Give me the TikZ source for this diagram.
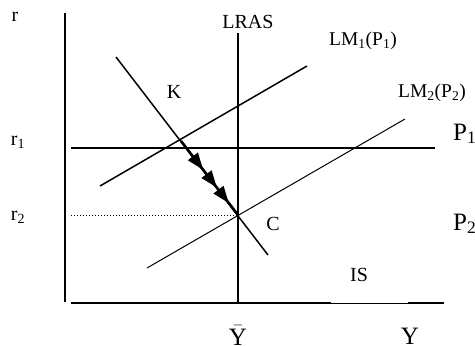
\documentclass[tikz,border=0pt]{standalone}
\usepackage{fontspec}
\setmainfont{Liberation Serif}
\usetikzlibrary{arrows.meta,decorations.markings}
\begin{document}
\begin{tikzpicture}[x=1pt,y=-1pt,
  axis/.style={line width=2pt},
  curve/.style={line width=1.5pt},
  thincurve/.style={line width=1pt},
  lbl/.style={inner sep=0pt,anchor=base,font=\fontsize{20}{22}\selectfont},
  lmlbl/.style={inner sep=0pt,anchor=base,font=\fontsize{19.5}{21}\selectfont},
  biglbl/.style={inner sep=0pt,anchor=base,font=\fontsize{25}{27}\selectfont},
  pathline/.style={line width=2.6pt,
    decoration={markings,
      mark=at position 0.39 with {\arrow{Triangle[length=17pt,width=12pt]}},
      mark=at position 0.63 with {\arrow{Triangle[length=17pt,width=12pt]}},
      mark=at position 0.84 with {\arrow{Triangle[length=17pt,width=12pt]}}},
    postaction={decorate}}]
\useasboundingbox (0,0) rectangle (475,346);
% coordinates
\coordinate (ytop) at (65,13);
\coordinate (ybot) at (65,302);
\coordinate (xl) at (71,303);
\coordinate (xa) at (331,303);
\coordinate (xb) at (408,303);
\coordinate (xr) at (444,303);
\coordinate (lrt) at (238,33);
\coordinate (lrb) at (238,303);
\coordinate (p1l) at (71,148);
\coordinate (p1r) at (435,148);
\coordinate (lm1a) at (100,186);
\coordinate (lm1b) at (307,66);
\coordinate (lm2a) at (147,268);
\coordinate (lm2b) at (405,119);
\coordinate (isa) at (116,57);
\coordinate (isb) at (268,255);
\coordinate (kx) at (181,141);
\coordinate (c) at (238,215);
\coordinate (r2l) at (71,215);
% axes
\draw[axis] (ytop) -- (ybot);
\draw[axis] (xl) -- (xa);
\draw[line width=1pt] (xa) -- (xb);
\draw[axis] (xb) -- (xr);
% LRAS
\draw[axis] (lrt) -- (lrb);
% P1 line
\draw[line width=2.3pt] (p1l) -- (p1r);
% LM curves
\draw[curve] (lm1a) -- (lm1b);
\draw[thincurve] (lm2a) -- (lm2b);
% IS / K line
\draw[curve] (isa) -- (isb);
\draw[pathline] (kx) -- (c);
% r2 dotted
\draw[line width=1pt,dotted] (r2l) -- (c);
% labels
\node[lbl] (rl) at (15,21) {r};
\node[lbl] (r1) at (18,145) {r\textsubscript{1}};
\node[lbl] (r2) at (18,220) {r\textsubscript{2}};
\node[lbl] (lras) at (248,28) {LRAS};
\node[lmlbl] (lm1) at (363,45) {LM\textsubscript{1}(P\textsubscript{1})};
\node[lmlbl] (lm2) at (432,97) {LM\textsubscript{2}(P\textsubscript{2})};
\node[biglbl,anchor=base west] (p1) at (453,140) {P\textsubscript{1}};
\node[biglbl,anchor=base west] (p2) at (453,230) {P\textsubscript{2}};
\node[lbl] (k) at (174,98) {K};
\node[lbl] (cl) at (273,230) {C};
\node[lbl] (is) at (359,281) {IS};
\node[biglbl] (ybar) at (238,345) {$\bar{\mbox{Y}}$};
\node[biglbl] (y) at (410,344) {Y};
\end{tikzpicture}
\end{document}
